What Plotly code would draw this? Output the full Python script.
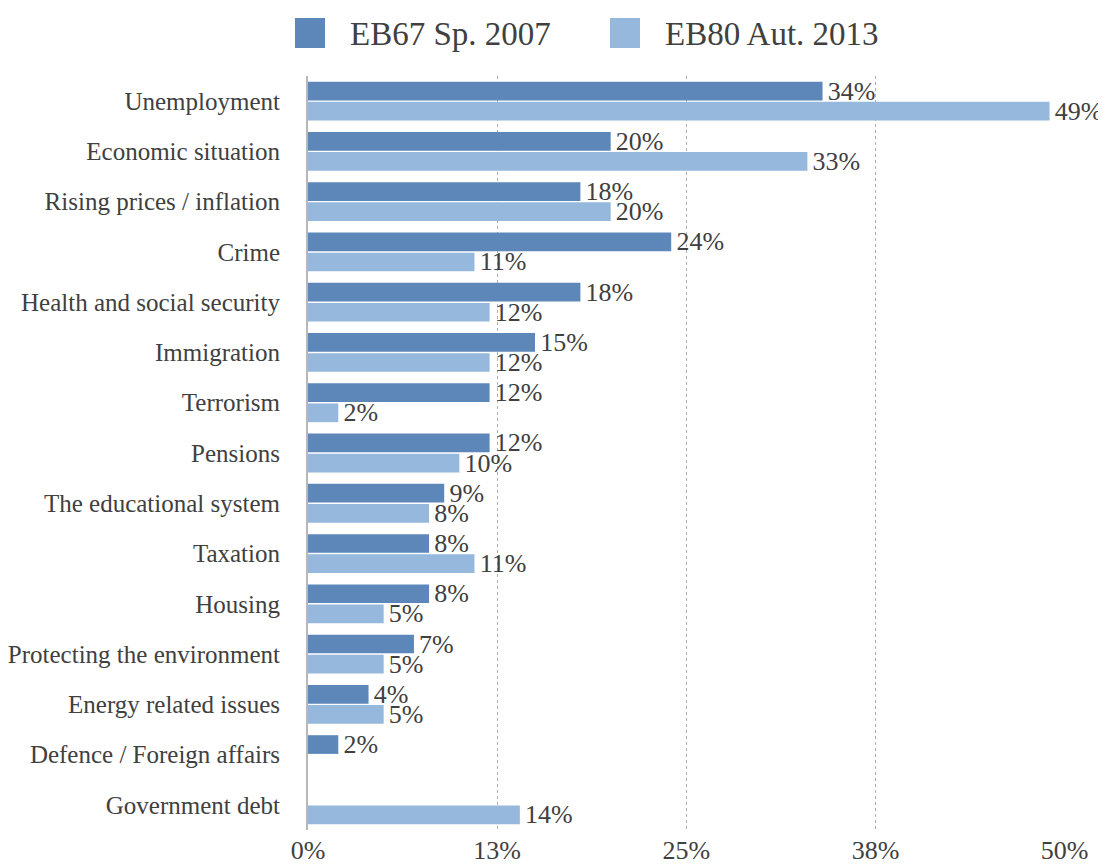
import plotly.graph_objects as go

categories = ["Unemployment", "Economic situation", "Rising prices / inflation", "Crime",
              "Health and social security", "Immigration", "Terrorism", "Pensions",
              "The educational system", "Taxation", "Housing", "Protecting the environment",
              "Energy related issues", "Defence / Foreign affairs", "Government debt"]
eb67_2007 = [34, 20, 18, 24, 18, 15, 12, 12, 9, 8, 8, 7, 4, 2, None]
eb80_2013 = [49, 33, 20, 11, 12, 12, 2, 10, 8, 11, 5, 5, 5, None, 14]
series_names = ["EB67 Sp. 2007", "EB80 Aut. 2013"]
colors = ["#5d87b9", "#96b8dc"]
tick_vals = [0, 12.5, 25, 37.5, 50]
tick_text = ["0%", "13%", "25%", "38%", "50%"]

OFF = 8  # default page body margin
W, H = 1106 - OFF, 865 - OFF
# plot area in page pixels: x 308..1065, y 76..830
L, T = 308 - OFF, 76 - OFF
R = W - (1065 - OFF)
B = H - (830 - OFF)
PW, PH = W - L - R, H - T - B
FONT = "Liberation Serif, Times New Roman, serif"
TXT = "#404040"

def px_x(px):  # page pixel -> paper
    return (px - OFF - L) / PW

def px_y(py):
    return (H - B - (py - OFF)) / PH

fig = go.Figure()
for name, vals, col in zip(series_names, [eb67_2007, eb80_2013], colors):
    fig.add_trace(go.Bar(
        y=categories, x=vals, name=name, orientation="h",
        marker=dict(color=col, line=dict(width=0)),
        texttemplate="\u200a%{x}%", textposition="outside", cliponaxis=False,
        constraintext="none",
        textfont=dict(size=26, color=TXT, family=FONT),
        showlegend=False,
    ))

shapes = []
annotations = []
legend_items = [(295, 348), (610, 663)]
for (sq_x, tx_x), name, col in zip(legend_items, series_names, colors):
    shapes.append(dict(type="rect", xref="paper", yref="paper",
                       x0=px_x(sq_x), x1=px_x(sq_x + 30),
                       y0=px_y(48), y1=px_y(18),
                       fillcolor=col, line=dict(width=0)))
    annotations.append(dict(xref="paper", yref="paper", x=px_x(tx_x), y=px_y(34),
                            xanchor="left", yanchor="middle", showarrow=False,
                            text=name, font=dict(size=33, color=TXT, family=FONT)))

fig.update_layout(
    width=W, height=H,
    margin=dict(l=L, r=R, t=T, b=B, autoexpand=False),
    paper_bgcolor="white", plot_bgcolor="white",
    barmode="group", bargap=0.2, bargroupgap=0.07,
    font=dict(family=FONT, color=TXT),
    shapes=shapes, annotations=annotations,
    xaxis=dict(range=[0, 50.02], tickvals=tick_vals, ticktext=tick_text,
               showgrid=True, gridcolor="#b0b0b0", griddash="dot", gridwidth=1,
               zeroline=False, showline=False, ticks="",
               ticklabelstandoff=2,
               tickfont=dict(size=26, color=TXT, family=FONT)),
    yaxis=dict(autorange="reversed", showgrid=False, zeroline=False,
               showline=True, linecolor="#b8b8b8", linewidth=2, ticks="",
               ticklabelstandoff=21,
               tickfont=dict(size=25, color=TXT, family=FONT)),
)

fig.write_html("out.html")
